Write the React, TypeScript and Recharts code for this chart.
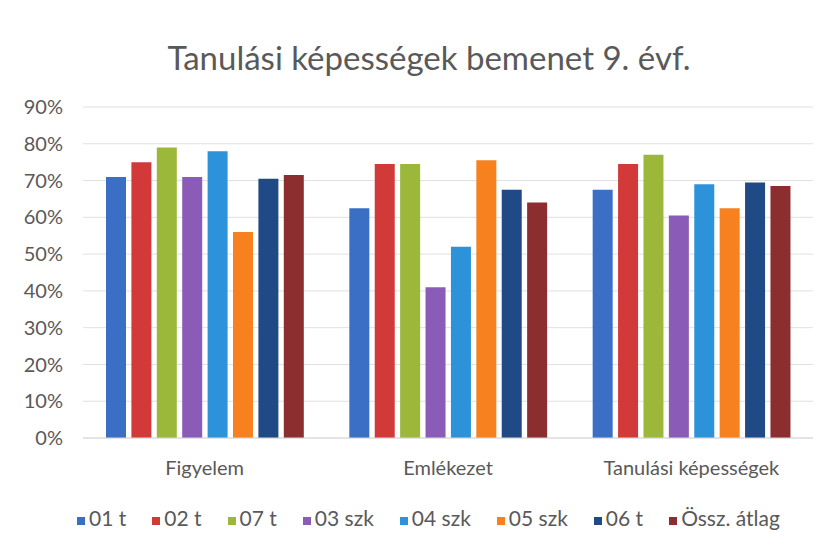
import React from 'react';
import { BarChart, Bar, XAxis, YAxis, CartesianGrid, Legend } from 'recharts';

const categories = ['Figyelem', 'Emlékezet', 'Tanulási képességek'];

const seriesNames = ['01 t', '02 t', '07 t', '03 szk', '04 szk', '05 szk', '06 t', 'Össz. átlag'];
const seriesColors = ['#3b6fc6', '#d23a3a', '#9bb83a', '#8b5cb7', '#2c93db', '#f7811f', '#1f4a85', '#8c2e30'];

// values in %
const t01 = [71, 62.5, 67.5];
const t02 = [75, 74.5, 74.5];
const t07 = [79, 74.5, 77];
const szk03 = [71, 41, 60.5];
const szk04 = [78, 52, 69];
const szk05 = [56, 75.5, 62.5];
const t06 = [70.5, 67.5, 69.5];
const osszAtlag = [71.5, 64, 68.5];

const yTicks = [0, 10, 20, 30, 40, 50, 60, 70, 80, 90];

const seriesValues = [t01, t02, t07, szk03, szk04, szk05, t06, osszAtlag];

const data = categories.map((name, i) => {
  const row: any = { name };
  seriesValues.forEach((vals, j) => {
    row['s' + j] = vals[i];
  });
  return row;
});

const font = 'Lato, Calibri, sans-serif';
const grey = '#595959';

export default function App() {
  return (
    <div style={{ position: 'absolute', left: 0, top: 0, width: 827, height: 551, background: '#fff', fontFamily: font }}>
      <div
        style={{
          position: 'absolute',
          top: 37,
          left: 429,
          transform: 'translateX(-50%)',
          whiteSpace: 'nowrap',
          fontSize: 33,
          lineHeight: '40px',
          color: grey,
          zIndex: 2,
        }}
      >
        Tanulási képességek bemenet 9. évf.
      </div>
      <BarChart
        width={827}
        height={551}
        data={data}
        margin={{ top: 107, right: 14, bottom: 49, left: 0 }}
        barSize={20}
        barGap={5.4}
      >
        <CartesianGrid vertical={false} stroke="#e0e0e0" />
        <XAxis
          dataKey="name"
          height={40}
          tickLine={false}
          tickSize={0}
          tickMargin={23}
          axisLine={{ stroke: '#d9d9d9' }}
          tick={{ fill: grey, fontSize: 20, fontFamily: font }}
        />
        <YAxis
          width={83}
          domain={[0, 90]}
          ticks={yTicks}
          interval={0}
          tickFormatter={(v) => v + '%'}
          axisLine={false}
          tickLine={false}
          tickSize={0}
          tickMargin={20}
          tick={{ fill: grey, fontSize: 20, fontFamily: font }}
        />
        <Legend
          verticalAlign="bottom"
          iconType="square"
          iconSize={8}
          itemSorter={null as any}
          wrapperStyle={{ bottom: 21, paddingLeft: 35, fontSize: 21, fontFamily: font, lineHeight: '24px' }}
          formatter={(v) => <span style={{ color: grey, marginRight: 16 }}>{v}</span>}
        />
        {seriesNames.map((n, j) => (
          <Bar key={n} dataKey={'s' + j} name={n} fill={seriesColors[j]} isAnimationActive={false} />
        ))}
      </BarChart>
    </div>
  );
}
